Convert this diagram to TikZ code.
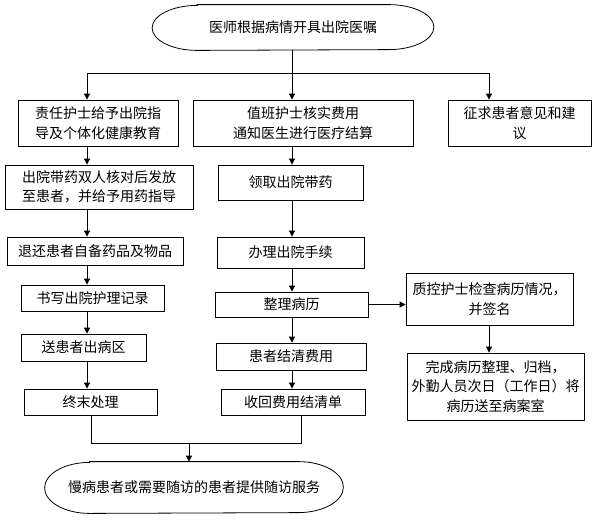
\documentclass[tikz,border=0pt]{standalone}
\usepackage{fontspec}
\setmainfont{Noto Sans CJK SC}
\usetikzlibrary{arrows.meta,calc}

\begin{document}
\begin{tikzpicture}[x=1pt,y=1pt,line width=.8pt,
	font=\fontsize{14}{19.5}\selectfont,
	box/.style={draw,rectangle,align=center,inner sep=0pt},
	arr/.style={-{Triangle[length=6pt,width=6pt]}}]
\useasboundingbox (0,0) rectangle (596,-520);
\node[minimum width=281pt,minimum height=45pt] (start) at (293,-27.5) {医师根据病情开具出院医嘱};
\node[minimum width=298pt,minimum height=51pt] (finish) at (194,-487.5) {慢病患者或需要随访的患者提供随访服务};
\foreach \n/\r in {start/22.5,finish/25.5}
	\draw ([xshift=45pt]\n.north west) -- ([xshift=-45pt]\n.north east) arc[start angle=90,end angle=-90,x radius=45pt,y radius=\r pt] -- ([xshift=45pt]\n.south west) arc[start angle=270,end angle=90,x radius=45pt,y radius=\r pt] -- cycle;
% left column
\node[box,minimum width=160pt,minimum height=46pt] (a1) at (98,-123) {责任护士给予出院指\\导及个体化健康教育};
\node[box,minimum width=188pt,minimum height=44pt] (a2) at (99,-187) {出院带药双人核对后发放\\至患者，并给予用药指导};
\node[box,minimum width=176pt,minimum height=28pt] (a3) at (95,-251) {退还患者自备药品及物品};
\node[box,minimum width=143pt,minimum height=26pt] (a4) at (92.5,-298) {书写出院护理记录};
\node[box,minimum width=125pt,minimum height=27pt] (a5) at (83.5,-347.5) {送患者出病区};
\node[box,minimum width=133pt,minimum height=26pt] (a6) at (90.5,-402) {终末处理};
% middle column
\node[box,minimum width=220pt,minimum height=46pt] (b1) at (303,-123) {值班护士核实费用\\通知医生进行医疗结算};
\node[box,minimum width=145pt,minimum height=35pt] (b2) at (290.5,-182.5) {领取出院带药};
\node[box,minimum width=147pt,minimum height=31pt] (b3) at (290.5,-252.5) {办理出院手续};
\node[box,minimum width=153pt,minimum height=25pt] (b4) at (291.5,-304.5) {整理病历};
\node[box,minimum width=150pt,minimum height=27pt] (b5) at (291,-356.5) {患者结清费用};
\node[box,minimum width=144pt,minimum height=26pt] (b6) at (293,-402) {收回费用结清单};
% right column
\node[box,minimum width=143pt,minimum height=46pt] (c1) at (519.5,-123) {征求患者意见和建\\议};
\node[box,minimum width=167pt,minimum height=52pt] (c2) at (489.5,-299) {质控护士检查病历情况，\\并签名};
\node[box,minimum width=177pt,minimum height=67pt] (c3) at (495.5,-386.5) {完成病历整理、归档，\\外勤人员次日（工作日）将\\病历送至病案室};
% connectors
\coordinate (colA) at (87,0);
\coordinate (colB) at (292,0);
\coordinate (colC) at (489,0);
\coordinate (fork) at (292,-73);
\draw (start.south -| fork) -- (fork);
\draw (fork -| colA) -- (fork -| colC);
\foreach \c/\n in {colA/a1,colB/b1,colC/c1}
	\draw[arr] (fork -| \c) -- (\n.north -| \c);
\foreach \u/\v in {a1/a2,a2/a3,a3/a4,a4/a5,a5/a6}
	\draw[arr] (\u.south -| colA) -- (\v.north -| colA);
\foreach \u/\v in {b1/b2,b2/b3,b3/b4,b4/b5,b5/b6}
	\draw[arr] (\u.south -| colB) -- (\v.north -| colB);
\draw[arr] (b4.east) -- (b4.east -| c2.west);
\draw[arr] (c2.south -| colC) -- (c3.north -| colC);
\coordinate (mergeA) at (91,-443);
\coordinate (mergeB) at (301,-443);
\coordinate (merge) at (189,-443);
\draw (a6.south -| mergeA) -- (mergeA) -- (mergeB) -- (b6.south -| mergeB);
\draw[arr] (merge) -- (finish.north -| merge);
\end{tikzpicture}
\end{document}
